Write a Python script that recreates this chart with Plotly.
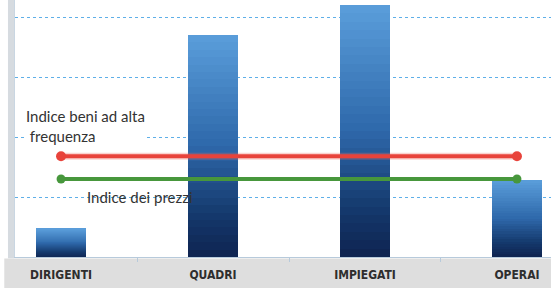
import plotly.graph_objects as go

categories = ["DIRIGENTI", "QUADRI", "IMPIEGATI", "OPERAI"]
bar_values = [0.47, 3.70, 4.20, 1.28]
index_high_freq = [1.68, 1.68]
index_prices = [1.30, 1.30]
line_categories = ["DIRIGENTI", "OPERAI"]

# gradient stops (t: 0 bottom -> 1 top)
stops = [(0.0, (0x0e, 0x23, 0x50)), (0.2, (0x15, 0x3a, 0x6e)),
         (0.5, (0x2e, 0x68, 0xaa)), (1.0, (0x5a, 0x9e, 0xdb))]


def grad(t):
    for (t0, c0), (t1, c1) in zip(stops[:-1], stops[1:]):
        if t0 <= t <= t1:
            f = (t - t0) / (t1 - t0)
            return tuple(round(c0[k] + (c1[k] - c0[k]) * f) for k in range(3))
    return stops[-1][1]


N = 30
fig = go.Figure()
for i in range(N):
    t = (i + 0.5) / N
    c = grad(t)
    fig.add_trace(go.Bar(
        x=categories, y=[v / N for v in bar_values], width=0.33,
        marker=dict(color="rgb(%d,%d,%d)" % c, line=dict(width=0)),
        showlegend=False, hoverinfo="skip"))

# halo for red line
fig.add_trace(go.Scatter(x=line_categories, y=index_high_freq, mode="lines",
                         line=dict(color="rgba(240,110,100,0.3)", width=7),
                         showlegend=False, hoverinfo="skip"))
fig.add_trace(go.Scatter(x=line_categories, y=index_high_freq, mode="lines+markers",
                         line=dict(color="#e8433b", width=4),
                         marker=dict(color="#e8433b", size=10),
                         showlegend=False))
fig.add_trace(go.Scatter(x=line_categories, y=index_prices, mode="lines+markers",
                         line=dict(color="#47973c", width=4),
                         marker=dict(color="#47973c", size=9),
                         showlegend=False))

txt_font = dict(family="Lato, Open Sans, sans-serif", size=15, color="#333333")
fig.add_annotation(x=0.018, xref="paper", y=1.68 + 0.50, yref="y",
                   text="Indice beni ad alta<br> frequenza", showarrow=False,
                   xanchor="left", yanchor="middle", align="left", font=txt_font,
                   bgcolor="white", borderpad=0)
fig.add_annotation(x=0.13, xref="paper", y=1.0, yref="y",
                   text="Indice dei prezzi", showarrow=False,
                   xanchor="left", yanchor="middle", align="left", font=txt_font)

shapes = [
    # bottom gray band
    dict(type="rect", xref="paper", yref="paper", x0=-0.02, x1=1.0, y0=-0.125, y1=-0.006,
         fillcolor="#dedede", line=dict(width=0), layer="below"),
    # left strip
    dict(type="rect", xref="paper", yref="paper", x0=-0.0131, x1=-0.0019, y0=-0.005, y1=1.0,
         fillcolor="#d6dbe0", line=dict(width=0), layer="below"),
    # white masks over gridlines
    dict(type="rect", xref="paper", yref="paper", x0=0.315, x1=0.405, y0=0.88, y1=1.0,
         fillcolor="white", line=dict(width=0), layer="between"),
    dict(type="rect", xref="paper", yref="paper", x0=0.70, x1=0.785, y0=0.88, y1=1.0,
         fillcolor="white", line=dict(width=0), layer="between"),
    dict(type="rect", xref="paper", yref="paper", x0=0.905, x1=0.975, y0=0.42, y1=0.52,
         fillcolor="white", line=dict(width=0), layer="between"),
    dict(type="rect", xref="paper", yref="paper", x0=0.05, x1=0.118, y0=0.13, y1=0.245,
         fillcolor="white", line=dict(width=0), layer="between"),
]

fig.update_layout(
    width=551, height=288, barmode="stack", bargap=0,
    margin=dict(l=15, r=0, t=0, b=31),
    paper_bgcolor="white", plot_bgcolor="white",
    shapes=shapes,
    xaxis=dict(type="category", categoryorder="array", categoryarray=categories,
               range=[-0.303, 3.224], showgrid=False, showline=True,
               linecolor="#b7cadb", linewidth=1, ticks="outside", tickson="boundaries",
               ticklen=4, tickcolor="#b7cadb",
               tickfont=dict(family="DejaVu Sans Condensed, Liberation Sans Narrow, sans-serif",
                             size=12, color="#2e2e2e", weight="bold"),
               ticklabelstandoff=7),
    yaxis=dict(range=[0, 257 / 60], showgrid=True, gridcolor="#5eafe8", griddash="dot",
               gridwidth=1, dtick=1, showticklabels=False, zeroline=False,
               showline=True, linecolor="#c9d6e2", linewidth=1),
)

fig.write_html("out.html", config={"displayModeBar": False},
               post_script="document.body.style.margin='0';document.body.style.overflow='hidden';")
